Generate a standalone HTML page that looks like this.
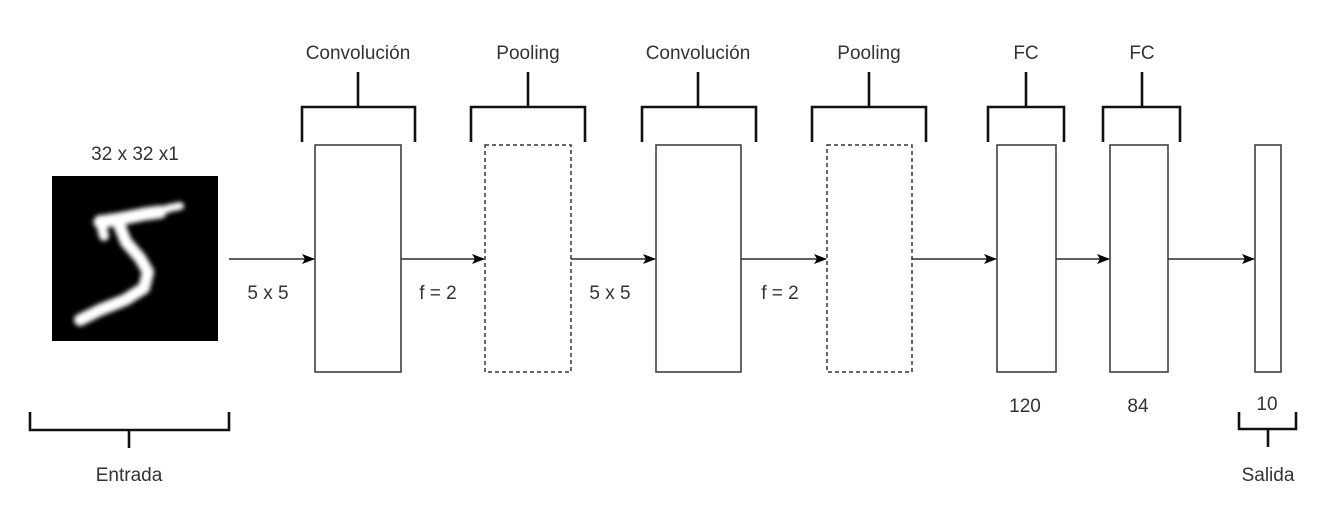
<!DOCTYPE html>
<html><head><meta charset="utf-8"><style>
html,body{margin:0;padding:0;background:#fff;}
svg{display:block;}
text{font-family:"Liberation Sans",sans-serif;font-size:19px;fill:#333;}
</style></head><body>
<svg width="1338" height="510" viewBox="0 0 1338 510">
<defs>
<marker id="ah" markerWidth="13" markerHeight="10" refX="12" refY="5" orient="auto" markerUnits="userSpaceOnUse">
<path d="M0,0 L13,5 L0,10 L3,5 Z" fill="#000"/></marker>
<filter id="bl"><feGaussianBlur stdDeviation="2.5"/></filter>
</defs>
<!-- input -->
<text x="135" y="160" text-anchor="middle">32 x 32 x1</text>
<g>
<rect x="52" y="176" width="166" height="165" fill="#000"/>
<g filter="url(#bl)" stroke="#fff" fill="none" stroke-linecap="round" stroke-linejoin="round">
<path d="M100,222 L125,218 L145,214 L160,212" stroke-width="13"/>
<path d="M150,214 L170,208 L180,206" stroke-width="8"/>
<path d="M100,220 L104,236" stroke-width="10"/>
<path d="M118,222 L126,242 L140,258 L148,272 L144,288 L125,300 L100,310 L80,320" stroke-width="12"/>
</g></g>
<!-- arrows -->
<g stroke="#000" stroke-width="1.3">
<line x1="229" y1="259" x2="314" y2="259" marker-end="url(#ah)"/>
<line x1="401" y1="259" x2="484" y2="259" marker-end="url(#ah)"/>
<line x1="571" y1="259" x2="655" y2="259" marker-end="url(#ah)"/>
<line x1="741" y1="259" x2="826" y2="259" marker-end="url(#ah)"/>
<line x1="912" y1="259" x2="996" y2="259" marker-end="url(#ah)"/>
<line x1="1056" y1="259" x2="1109" y2="259" marker-end="url(#ah)"/>
<line x1="1168" y1="259" x2="1254" y2="259" marker-end="url(#ah)"/>
</g>
<text x="268" y="299" text-anchor="middle">5 x 5</text>
<text x="438" y="299" text-anchor="middle">f = 2</text>
<text x="610" y="299" text-anchor="middle">5 x 5</text>
<text x="780" y="299" text-anchor="middle">f = 2</text>
<!-- boxes -->
<g fill="#fff" stroke="#333" stroke-width="1.5">
<rect x="315" y="145" width="86" height="227"/>
<rect x="485" y="145" width="86" height="227" stroke-dasharray="4,3"/>
<rect x="656" y="145" width="85" height="227"/>
<rect x="827" y="145" width="85" height="227" stroke-dasharray="4,3"/>
<rect x="997" y="145" width="59" height="227"/>
<rect x="1110" y="145" width="58" height="227"/>
<rect x="1255" y="145" width="26" height="227"/>
</g>
<!-- brackets -->
<g stroke="#111" stroke-width="2.6" fill="none">
<path d="M302,142 V107 H415 V142 M358,107 V72"/>
<path d="M471,142 V107 H585 V142 M528,107 V72"/>
<path d="M642,142 V107 H756 V142 M698,107 V72"/>
<path d="M812,142 V107 H926 V142 M869,107 V72"/>
<path d="M988,142 V107 H1064 V142 M1026,107 V72"/>
<path d="M1103,142 V107 H1180 V142 M1142,107 V72"/>
<path d="M30,412 V430 H229 V412 M129,430 V448"/>
<path d="M1239,412 V429 H1296 V412 M1268,429 V447"/>
</g>
<text x="358" y="59" text-anchor="middle">Convolución</text>
<text x="528" y="59" text-anchor="middle">Pooling</text>
<text x="698" y="59" text-anchor="middle">Convolución</text>
<text x="869" y="59" text-anchor="middle">Pooling</text>
<text x="1026" y="59" text-anchor="middle">FC</text>
<text x="1142" y="59" text-anchor="middle">FC</text>
<text x="1025" y="412" text-anchor="middle">120</text>
<text x="1138" y="412" text-anchor="middle">84</text>
<text x="1267" y="410" text-anchor="middle">10</text>
<text x="129" y="481" text-anchor="middle">Entrada</text>
<text x="1268" y="481" text-anchor="middle">Salida</text>
</svg>
</body></html>
